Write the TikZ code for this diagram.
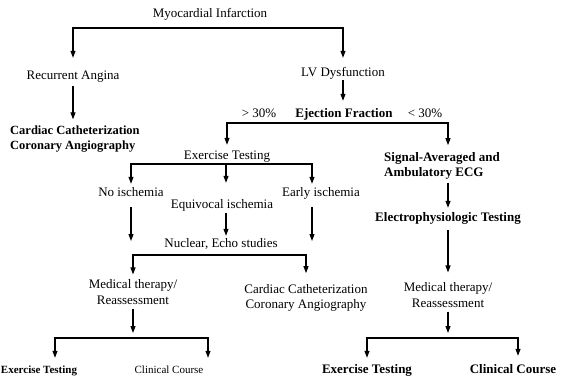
\documentclass[tikz,border=0pt]{standalone}
\usepackage{fontspec}
\setmainfont{Liberation Serif}
\usetikzlibrary{arrows.meta}
\newcommand\figfont{\fontsize{13}{15.5}\selectfont}
\newcommand\smfont{\fontsize{11}{13}\selectfont}
\begin{document}
\begin{tikzpicture}[x=1pt,y=-1pt,
  lbl/.style={inner sep=0pt, font=\figfont, text height=9pt, text depth=3pt},
  lbl2/.style={inner sep=0pt, font=\figfont, align=center},
  arr/.style={line width=1.1pt, -{Triangle[length=7pt,width=5pt]}},
  bar/.style={line width=1.1pt}
]
\useasboundingbox[fill=white] (0,0) rectangle (561,375);

% nodes
\node[lbl] (mi) at (210,14) {Myocardial Infarction};
\node[lbl] (ra) at (73,76) {Recurrent Angina};
\node[lbl] (lv) at (343,73) {LV Dysfunction};
\node[lbl2,font=\fontsize{12.5}{15.5}\selectfont\bfseries,align=left,anchor=west] (cc1) at (10,139) {Cardiac Catheterization\\Coronary Angiography};
\node[lbl] (gt) at (259,114) {> 30\%};
\node[lbl,font=\figfont\bfseries] (ef) at (344,114) {Ejection Fraction};
\node[lbl] (lt) at (425,114) {< 30\%};
\node[lbl] (et) at (227,156) {Exercise Testing};
\node[lbl2,font=\figfont\bfseries,align=left,anchor=west] (sa) at (384,166) {Signal-Averaged and\\Ambulatory ECG};
\node[lbl] (ni) at (131,193) {No ischemia};
\node[lbl] (eq) at (222,205) {Equivocal ischemia};
\node[lbl] (ei) at (321,193) {Early ischemia};
\node[lbl,font=\figfont\bfseries] (ep) at (448,218) {Electrophysiologic Testing};
\node[lbl] (ne) at (221,244) {Nuclear, Echo studies};
\node[lbl2] (mt1) at (133,292) {Medical therapy/\\Reassessment};
\node[lbl2] (cc2) at (306,298) {Cardiac Catheterization\\Coronary Angiography};
\node[lbl2] (mt2) at (448,295) {Medical therapy/\\Reassessment};
\node[lbl,font=\smfont\bfseries] (et1) at (39,370) {Exercise Testing};
\node[lbl,font=\smfont] (cl1) at (169,370) {Clinical Course};
\node[lbl,font=\figfont\bfseries] (et2) at (367,370) {Exercise Testing};
\node[lbl,font=\figfont\bfseries] (cl2) at (513,370) {Clinical Course};

% junction coordinates
\coordinate (tbc) at (210,28);
\coordinate (efc) at (344,123);
\coordinate (efr) at (448,123);
\coordinate (etc) at (226,164);
\coordinate (etr) at (312,164);
\coordinate (nia) at (131,241);
\coordinate (eia) at (312,241);
\coordinate (nec) at (221,255);
\coordinate (m1a) at (133,333);
\coordinate (b1l) at (55,338);
\coordinate (b1r) at (208,338);
\coordinate (m2a) at (448,333);
\coordinate (b2l) at (367,338);
\coordinate (b2r) at (518,338);

% connectors
\draw[arr,shorten >=12pt] (tbc) -| (ra);
\draw[arr,shorten >=9pt] (tbc) -| (lv);
\draw[arr,shorten <=4pt,shorten >=6pt] (ra.south) -- (ra.south |- cc1.north);
\draw[arr,shorten <=1pt,shorten >=7pt] (lv.south) -- (lv.south |- ef.north);
\draw[arr,shorten >=5pt] (efc) -| (et);
\draw[arr,shorten >=7pt] (efc) -- (efr) -- (efr |- sa.north);
\draw[arr,shorten >=3pt] (etc) -| (ni);
\draw[arr,shorten >=16pt] (etc) -- (etc |- eq.north);
\draw[arr,shorten >=3pt] (etc) -- (etr) -- (etr |- ei.north);
\draw[arr,shorten <=8pt] (ni.south) -- (nia);
\draw[arr,shorten <=8pt] (ei.south -| eia) -- (eia);
\draw[arr,shorten <=2pt,shorten >=2pt] (eq.south -| etc) -- (ne.north -| etc);
\draw[arr,shorten >=5pt] (nec) -| (mt1);
\draw[arr,shorten >=11pt] (nec) -| (cc2);
\draw[arr,shorten <=3pt,shorten >=4pt] (sa.south -| efr) -- (ep.north -| efr);
\draw[arr,shorten <=6pt,shorten >=10pt] (ep.south) -- (ep.south |- mt2.north);
\draw[arr,shorten <=4pt] (mt1.south) -- (m1a);
\draw[arr,shorten <=4pt] (mt2.south) -- (m2a);
\draw[arr,shorten >=6pt] (b1r) -- (b1l) -- (b1l |- et1.north);
\draw[arr,shorten >=6pt] (b1l) -- (b1r) -- (b1r |- cl1.north);
\draw[arr,shorten >=6pt] (b2r) -- (b2l) -- (b2l |- et2.north);
\draw[arr,shorten >=8pt] (b2l) -- (b2r) -- (b2r |- cl2.north);
\end{tikzpicture}
\end{document}
